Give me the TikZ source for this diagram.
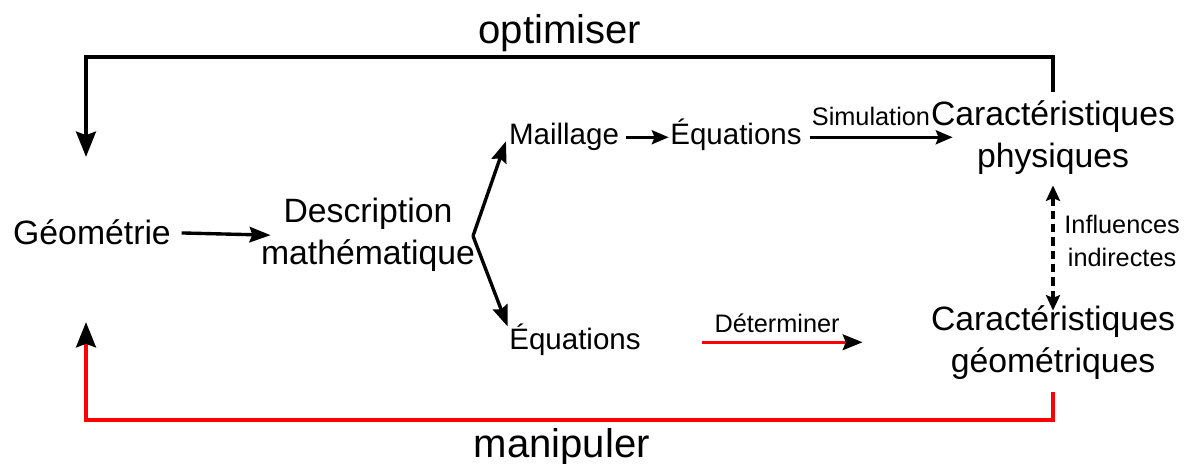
\documentclass[tikz,border=0pt]{standalone}
\usepackage{fontspec}
\setmainfont{Liberation Sans}
\usetikzlibrary{positioning,arrows.meta,calc}
\tikzset{
  mainbox/.style={align=center,font=\fontsize{24}{30}\selectfont,inner sep=1.5pt},
  subbox/.style={font=\fontsize{21}{25}\selectfont,inner sep=1pt,
    text height=15.5pt,text depth=4.5pt},
  lblbox/.style={align=center,font=\fontsize{18}{23.5}\selectfont,inner sep=1pt},
  loopbox/.style={font=\fontsize{28.5}{34}\selectfont,inner sep=1pt},
  fl/.style={-{Stealth[length=15pt,width=11pt,inset=2pt]},line width=2.4pt},
  thinfl/.style={-{Stealth[length=12pt,width=10pt,inset=2pt]},line width=1.9pt},
  loopfl/.style={-{Stealth[length=18pt,width=14pt,inset=2.5pt]},line width=2.9pt},
  redloopfl/.style={-{Stealth[length=18pt,width=14pt,inset=2.5pt,color=black]},
    draw=red,line width=2.9pt},
  redfl/.style={-{Stealth[length=14pt,width=11pt,inset=2pt,color=black]},
    draw=red,line width=2.5pt},
  dashfl/.style={{Stealth[length=11pt,width=10pt,inset=2pt]}-{Stealth[length=11pt,width=10pt,inset=2pt]},
    line width=2.2pt,dash pattern=on 6pt off 3.5pt},
}
\begin{document}
\begin{tikzpicture}[x=0.025cm,y=-0.025cm]
  \useasboundingbox (0,0) rectangle (1190,464);
  % Noeuds
  \node[mainbox,anchor=base] (geo) at (92,245) {Géométrie};
  \node[mainbox,anchor=base] (desc) at (368,265) {Description\\mathématique};
  \node[subbox,anchor=base] (mail) at (564,145) {Maillage};
  \node[subbox,anchor=base] (eqa) at (736,145) {Équations};
  \node[subbox,anchor=base] (eqb) at (575,350) {Équations};
  \node[mainbox,anchor=base] (cp) at (1053,168) {Caractéristiques\\physiques};
  \node[mainbox,anchor=base] (cg) at (1053,373) {Caractéristiques\\géométriques};
  \coordinate (br) at (473,236);
  \coordinate (tl) at (86,57);
  \coordinate (gin) at (86,157);
  \coordinate (bl) at (86,420);
  \coordinate (gout) at (86,322);
  % Fleches
  \draw[fl,shorten <=6pt] (geo.east) -- ([xshift=8.5pt]desc.west);
  \draw[fl,shorten >=3pt] (br) -- (mail.west);
  \draw[fl] (br) -- (eqb.north west);
  \draw[thinfl,shorten <=4pt] (mail.east) -- (eqa.west);
  \draw[thinfl,shorten <=4.5pt] (eqa.east) -- ([xshift=17pt]eqa.east -| cp.west)
        node[midway,above=6pt,lblbox,xshift=-5pt]{Simulation};
  \draw[redfl,shorten <=42.5pt,shorten >=47pt] (eqb.east) -- (eqb.east -| cg.west)
        node[midway,above=4.5pt,lblbox,xshift=-6pt]{Déterminer};
  \draw[dashfl,shorten <=5.7pt,shorten >=-5pt] (cp.south) -- (cg.north)
        node[midway,right=6pt,lblbox]{Influences\\indirectes};
  % Boucles
  \draw[loopfl] ([yshift=5pt]cp.north) |- node[pos=0.755,above=1.5pt,loopbox]{optimiser} (tl) -- (gin);
  \draw[redloopfl,shorten <=7pt] (cg.south) |- node[pos=0.754,below=3.5pt,loopbox]{manipuler} (bl) -- (gout);
\end{tikzpicture}
\end{document}
